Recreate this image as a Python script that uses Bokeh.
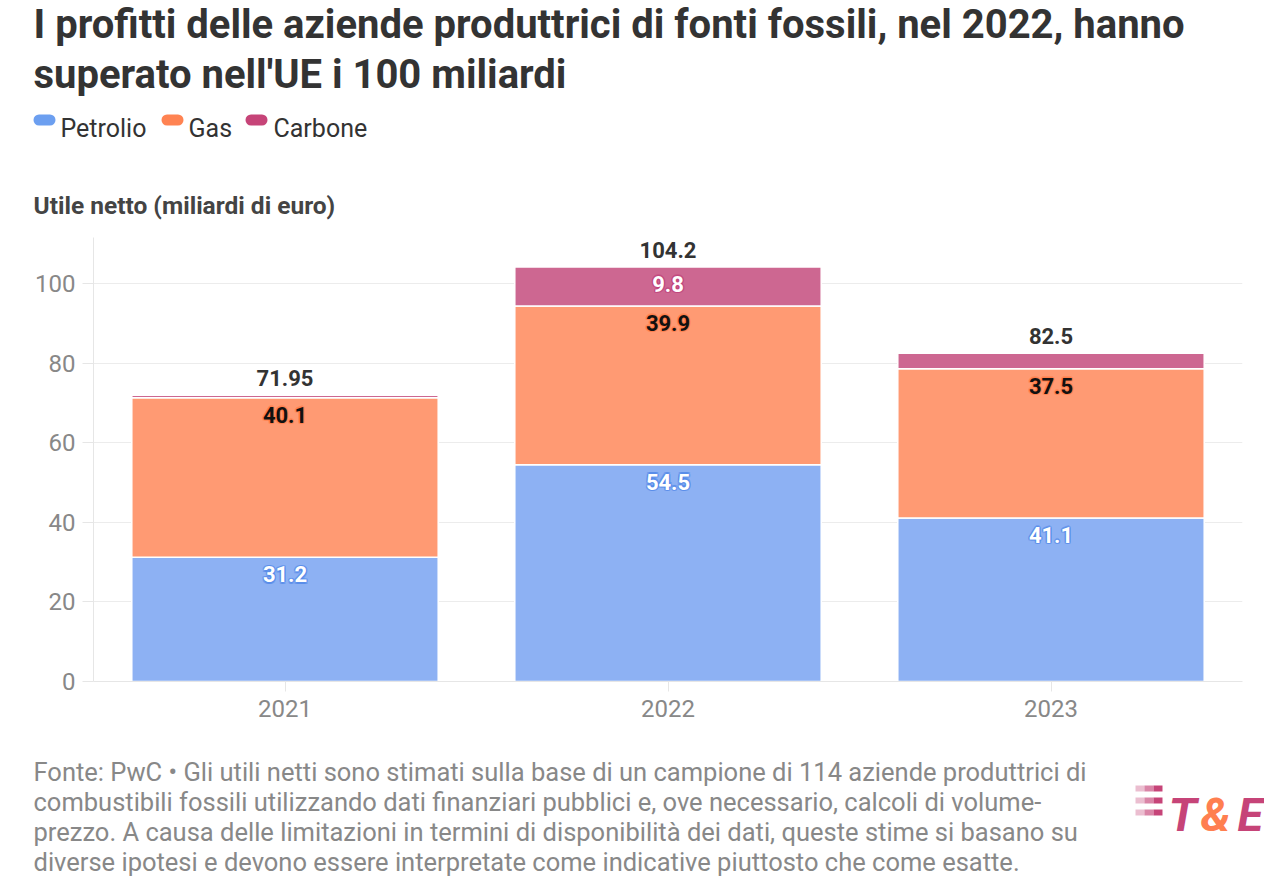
import numpy as np
from bokeh.plotting import figure
from bokeh.layouts import column
from bokeh.models import ColumnDataSource, Range1d, Label, BoxAnnotation
from bokeh.core.properties import value
from bokeh.embed import file_html
from bokeh.resources import INLINE

# ---------------- data ----------------
years = ["2021", "2022", "2023"]
series = ["Petrolio", "Gas", "Carbone"]
petrolio = [31.2, 54.5, 41.1]
gas = [40.1, 39.9, 37.5]
carbone = [0.65, 9.8, 3.9]
totals = [71.95, 104.2, 82.5]
y_ticks = [0, 20, 40, 60, 80, 100]

title_lines = [
    "I profitti delle aziende produttrici di fonti fossili, nel 2022, hanno",
    "superato nell'UE i 100 miliardi",
]
y_title = "Utile netto (miliardi di euro)"
footer_lines = [
    "Fonte: PwC \u2022 Gli utili netti sono stimati sulla base di un campione di 114 aziende produttrici di",
    "combustibili fossili utilizzando dati finanziari pubblici e, ove necessario, calcoli di volume-",
    "prezzo. A causa delle limitazioni in termini di disponibilit\u00e0 dei dati, queste stime si basano su",
    "diverse ipotesi e devono essere interpretate come indicative piuttosto che come esatte.",
]

# ---------------- styles ----------------
FONT = "Roboto"
bar_colors = ["#8db1f3", "#ff9a73", "#cd6791"]
legend_colors = ["#6c9ff0", "#ff8352", "#c64478"]
label_colors = ["#ffffff", "#111111", "#ffffff"]
halo_colors = ["#4f86e8", "#ff7a45", "#c0407a"]

W = 1264
HEAD_H = 230
MAIN_TOP, FRAME_H, MAIN_BOTTOM = 7, 444, 60
MAIN_H = MAIN_TOP + FRAME_H + MAIN_BOTTOM
FOOT_H = 141
SHIFT = 9  # measured vertical offset of annotation placement


def no_align(f):
    try:
        f.frame_align = False
    except Exception:
        pass


def blank(h):
    f = figure(width=W, height=h, x_axis_type=None, y_axis_type=None,
               x_range=Range1d(0, W), y_range=Range1d(0, h),
               output_backend="svg", toolbar_location=None, min_border=0)
    f.outline_line_color = None
    f.grid.grid_line_color = None
    f.background_fill_color = "white"
    f.border_fill_color = "white"
    no_align(f)
    return f


def add_label(f, h, X, Y, text, size, color, style="normal", y0=0):
    f.add_layout(Label(x=X, y=h - (Y - y0) + SHIFT, x_units="screen", y_units="screen",
                       text=text, text_font=FONT, text_font_style=style,
                       text_font_size=size, text_color=color,
                       text_baseline="alphabetic"))


def add_box(f, h, l, r, t, b, color, alpha=1.0, radius=0, y0=0):
    f.add_layout(BoxAnnotation(left=l, right=r,
                               top=h - (t - y0) + SHIFT, bottom=h - (b - y0) + SHIFT,
                               left_units="screen", right_units="screen",
                               top_units="screen", bottom_units="screen",
                               fill_color=color, fill_alpha=alpha,
                               line_color=None, border_radius=radius))


# ---------------- header ----------------
head = blank(HEAD_H)
for k, line in enumerate(title_lines):
    add_label(head, HEAD_H, 33, 33 + 50 * k, line, "40px", "#333333", "bold")

leg_x = [(33, 60), (161, 188), (245, 273)]
for i, name in enumerate(series):
    bx, tx = leg_x[i]
    add_box(head, HEAD_H, bx, bx + 22, 123, 134, legend_colors[i], radius=6)
    add_label(head, HEAD_H, tx, 137, name, "25px", "#333333")

add_label(head, HEAD_H, 33, 214, y_title, "24.5px", "#444444", "bold")

# ---------------- main chart ----------------
p = figure(
    x_range=years, y_range=Range1d(0, 111.6),
    width=W, height=MAIN_H, output_backend="svg", toolbar_location=None,
    min_border_left=93, min_border_right=W - 1242,
    min_border_top=MAIN_TOP, min_border_bottom=MAIN_BOTTOM,
)
no_align(p)
p.x_range.range_padding = 0
p.outline_line_color = None
p.background_fill_color = "white"
p.border_fill_color = "white"

src = ColumnDataSource(dict(years=years, Petrolio=petrolio, Gas=gas, Carbone=carbone))
p.vbar_stack(series, x="years", width=0.8, color=bar_colors, source=src,
             line_color="white", line_width=1.5)

stack = np.vstack([petrolio, gas, carbone])
tops = np.cumsum(stack, axis=0)
offsets = [(-1.5, 0), (1.5, 0), (0, -1.5), (0, 1.5), (-1.2, -1.2), (1.2, 1.2), (-1.2, 1.2), (1.2, -1.2)]
for i, name in enumerate(series):
    xs, ys, txt = [], [], []
    for j, yr in enumerate(years):
        v = stack[i, j]
        if v >= 5:
            xs.append(yr); ys.append(tops[i, j]); txt.append(f"{v:g}")
    s = ColumnDataSource(dict(x=xs, y=ys, t=txt))
    for dx, dy in offsets:
        p.text(x="x", y="y", text="t", source=s, x_offset=dx, y_offset=17 + dy,
               text_align="center", text_baseline="middle", text_font=value(FONT),
               text_font_style="bold", text_font_size="22px",
               text_color=halo_colors[i], text_alpha=0.45)
    p.text(x="x", y="y", text="t", source=s, y_offset=17,
           text_align="center", text_baseline="middle", text_font=value(FONT),
           text_font_style="bold", text_font_size="22px", text_color=label_colors[i])

tsrc = ColumnDataSource(dict(x=years, y=totals, t=[f"{t:g}" for t in totals]))
p.text(x="x", y="y", text="t", source=tsrc, y_offset=-17,
       text_align="center", text_baseline="middle", text_font=value(FONT),
       text_font_style="bold", text_font_size="22px", text_color="#333333")

p.yaxis.ticker = y_ticks
p.yaxis.axis_line_color = "#e6e6e6"
p.yaxis.major_tick_line_color = "#e6e6e6"
p.yaxis.major_tick_out = 11
p.yaxis.major_tick_in = 0
p.yaxis.minor_tick_line_color = None
p.yaxis.major_label_standoff = 7
p.yaxis.major_label_text_font = FONT
p.yaxis.major_label_text_font_size = "24px"
p.yaxis.major_label_text_color = "#888888"

p.xaxis.axis_line_color = "#e6e6e6"
p.xaxis.major_tick_line_color = "#e6e6e6"
p.xaxis.major_tick_out = 10
p.xaxis.major_tick_in = 0
p.xaxis.minor_tick_line_color = None
p.xaxis.major_label_standoff = 8
p.xaxis.major_label_text_font = FONT
p.xaxis.major_label_text_font_size = "24px"
p.xaxis.major_label_text_color = "#888888"

p.xgrid.grid_line_color = None
p.ygrid.grid_line_color = "#ececec"
p.ygrid.grid_line_width = 1.2

# ---------------- footer ----------------
Y0 = HEAD_H + MAIN_H
foot = blank(FOOT_H)
for k, line in enumerate(footer_lines):
    add_label(foot, FOOT_H, 33, 780 + 30.3 * k, line, "25.5px", "#888888", y0=Y0)

for yy in (794, 806, 818):
    for a, (l, r) in zip((0.35, 0.65, 1.0), ((1135, 1144), (1144, 1153), (1153, 1162))):
        add_box(foot, FOOT_H, l, r, yy, yy + 6, "#c64478", alpha=a, y0=Y0)
for t, X, c in (("T", 1168, "#c64478"), ("&", 1200, "#ff7f50"), ("E", 1237, "#c64478")):
    add_label(foot, FOOT_H, X, 823, t, "47px", c, "bold italic", y0=Y0)

layout = column(head, p, foot, spacing=0)
open("out.html", "w").write(file_html(layout, INLINE))
